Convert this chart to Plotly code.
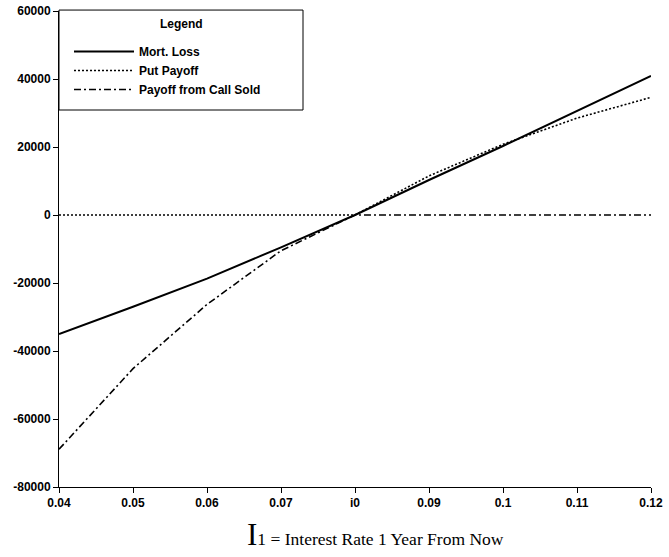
import plotly.graph_objects as go

# Interest rate one year from now (x) and the three payoff curves
rates = [0.04, 0.05, 0.06, 0.07, 0.08, 0.09, 0.10, 0.11, 0.12]
mort_loss = [-35000, -27000, -18700, -9500, 0, 10300, 20300, 30700, 40900]
put_payoff = [0, 0, 0, 0, 0, 11500, 20800, 28500, 34600]
call_sold = [-68900, -45200, -26300, -10500, 0, 0, 0, 0, 0]

x_tickvals = [0.04, 0.05, 0.06, 0.07, 0.08, 0.09, 0.10, 0.11, 0.12]
x_ticktext = ["0.04", "0.05", "0.06", "0.07", "i0", "0.09", "0.1", "0.11", "0.12"]
y_tickvals = [60000, 40000, 20000, 0, -20000, -40000, -60000, -80000]
y_ticktext = ["60000", "40000", "20000", "0", "-20000", "-40000", "-60000", "-80000"]

W, H = 669, 557
ML, MR, MT, MB = 59, 18, 11, 70
PW, PH = W - ML - MR, H - MT - MB

tick_font = dict(family="Liberation Sans, Arial", size=12, color="black", weight="bold")
legend_font = dict(family="Liberation Sans, Arial", size=12, color="black", weight="bold")

fig = go.Figure()
fig.add_trace(go.Scatter(x=rates, y=mort_loss, mode="lines", name="Mort. Loss",
                         line=dict(color="black", width=2, dash="solid")))
fig.add_trace(go.Scatter(x=rates, y=put_payoff, mode="lines", name="Put Payoff",
                         line=dict(color="black", width=1.6, dash="2px,2px")))
fig.add_trace(go.Scatter(x=rates, y=call_sold, mode="lines", name="Payoff from Call Sold",
                         line=dict(color="black", width=1.6, dash="7px,3px,2px,3px")))

# legend frame and heading
box_right = (303 - ML) / PW
box_bottom = 1 - (110 - MT) / PH
fig.add_shape(type="rect", xref="paper", yref="paper",
              x0=0, x1=box_right, y0=box_bottom, y1=1.002,
              line=dict(color="black", width=1), fillcolor="white", layer="below")
fig.add_annotation(xref="paper", yref="paper", x=box_right / 2, y=1 - (24 - MT) / PH,
                   text="Legend", showarrow=False, xanchor="center", yanchor="middle",
                   font=legend_font)

# axis title
fig.add_annotation(xref="paper", yref="paper", x=(375 - ML) / PW, y=-(534 - MT - PH) / PH,
                   text='<span style="font-size:31px">I</span>1 = Interest Rate 1 Year From Now',
                   showarrow=False, xanchor="center", yanchor="middle",
                   font=dict(family="Liberation Serif, Times New Roman", size=17.5, color="black"))

fig.update_layout(
    width=W, height=H,
    margin=dict(l=ML, r=MR, t=MT, b=MB, pad=0, autoexpand=False),
    paper_bgcolor="white", plot_bgcolor="white",
    showlegend=True,
    legend=dict(x=(69 - ML) / PW, y=1 - (37 - MT) / PH, xanchor="left", yanchor="top",
                bgcolor="rgba(0,0,0,0)", borderwidth=0, itemwidth=60,
                tracegroupgap=0, font=legend_font),
    xaxis=dict(range=[0.04, 0.12], tickvals=x_tickvals, ticktext=x_ticktext, automargin=False,
               showgrid=False, zeroline=False, showline=True, linecolor="black", linewidth=1,
               ticks="outside", ticklen=5, tickcolor="black", tickfont=tick_font),
    yaxis=dict(range=[-80000, 60000], tickvals=y_tickvals, ticktext=y_ticktext, automargin=False,
               showgrid=False, zeroline=False, showline=True, linecolor="black", linewidth=1,
               ticks="outside", ticklen=5, tickcolor="black", tickfont=tick_font),
)

fig.write_html("out.html")
